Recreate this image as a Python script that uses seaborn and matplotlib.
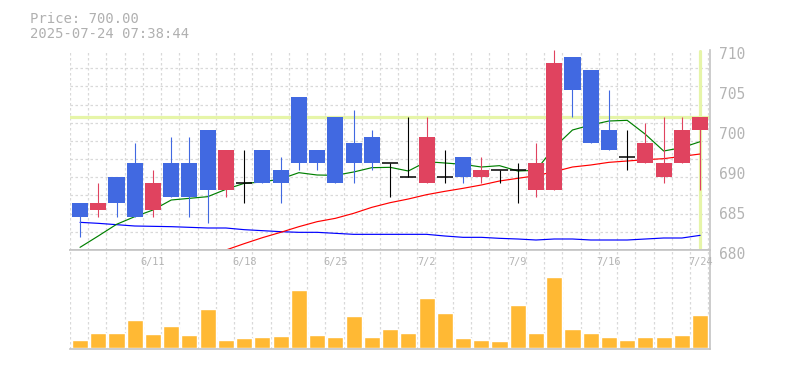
import matplotlib
matplotlib.use("Agg")
import matplotlib.pyplot as plt
import matplotlib.transforms as mtransforms
import numpy as np
import pandas as pd
import seaborn as sns

# ---- data ----
dates = ['6/5', '6/6', '6/9', '6/10', '6/11', '6/12', '6/13', '6/16', '6/17', '6/18',
         '6/19', '6/20', '6/23', '6/24', '6/25', '6/26', '6/27', '6/30', '7/1', '7/2',
         '7/3', '7/4', '7/7', '7/8', '7/9', '7/10', '7/11', '7/14', '7/15', '7/16',
         '7/17', '7/18', '7/22', '7/23', '7/24']
opens = [687, 686, 691, 693, 686, 693, 693, 698, 689, 690, 695, 692, 703, 695, 700, 696, 697, 693,
         691, 690, 691, 694, 691, 692, 692, 689, 689, 709, 707, 698, 694, 693, 691, 693, 698]
highs = [687, 690, 691, 696, 692, 697, 697, 698, 695, 695, 695, 694, 703, 695, 700, 701, 698, 693,
         700, 700, 695, 694, 694, 692, 693, 696, 710, 709, 707, 704, 698, 699, 700, 700, 700]
lows = [682, 685, 685, 685, 685, 688, 685, 684, 688, 687, 690, 687, 692, 692, 690, 690, 692, 688,
        691, 690, 690, 690, 690, 690, 687, 688, 689, 700, 696, 695, 692, 693, 690, 693, 689]
closes = [685, 687, 687, 685, 690, 688, 688, 689, 695, 690, 690, 690, 693, 693, 690, 693, 693, 693,
          691, 697, 691, 691, 692, 692, 692, 693, 708, 704, 696, 695, 694, 696, 693, 698, 700]
volumes = [770, 1470, 1470, 2770, 1370, 2170, 1270, 3870, 770, 970, 1070, 1170, 5770, 1270,
           1070, 3170, 1070, 1870, 1470, 4970, 3470, 970, 770, 670, 4270, 1470, 7070, 1870,
           1470, 1070, 770, 1070, 1070, 1270, 3270]
ma_short = [680.4, 682.1, 683.85, 685.0, 686.0, 687.5, 687.75, 688.0, 689.1, 690.0, 690.2, 690.65,
            691.6, 691.25, 691.2, 691.7, 692.35, 692.4, 691.85, 693.25, 693.05, 692.85, 692.45,
            692.65, 691.85, 691.95, 695.4, 698.0, 698.75, 699.35, 699.45, 697.35, 694.85, 695.35,
            696.25]
ma_mid_start = 8
ma_mid = [680.0, 680.95, 681.85, 682.65, 683.5, 684.25, 684.75, 685.5, 686.4, 687.1, 687.65,
          688.3, 688.8, 689.25, 689.75, 690.35, 690.75, 691.15, 691.75, 692.45, 692.75, 693.15,
          693.35, 693.55, 693.7, 694.05, 694.4]
ma_long = [684.15, 684.0, 683.8, 683.6, 683.55, 683.5, 683.4, 683.3, 683.3, 683.05, 682.9, 682.75,
           682.65, 682.65, 682.5, 682.35, 682.35, 682.35, 682.35, 682.35, 682.1, 681.9, 681.9,
           681.75, 681.65, 681.5, 681.65, 681.65, 681.5, 681.5, 681.5, 681.65, 681.8, 681.8, 682.2]
label_dates = ['6/11', '6/18', '6/25', '7/2', '7/9', '7/16', '7/24']
price_ticks = [680, 686, 692, 698, 704, 710]
price_tick_labels = ['680', '685', '690', '700', '705', '710']
title_lines = ['Price: 700.00', '2025-07-24 07:38:44']

UP = '#e0435f'
DOWN = '#4169e1'
GRID = '#d9d9d9'
SPINE = '#c4c4c4'
TEXT = '#b4b4b4'
HILITE = '#e6f5a8'

sns.set_style("white")
plt.rcParams['font.family'] = ['DejaVu Sans Mono', 'DejaVu Sans']

df = pd.DataFrame({'x': np.arange(len(dates)), 'date': dates, 'open': opens, 'high': highs,
                   'low': lows, 'close': closes, 'volume': volumes,
                   'ma_short': ma_short, 'ma_long': ma_long})

fig = plt.figure(figsize=(7.85, 3.70), dpi=100)
ax = fig.add_axes([70 / 785, 120 / 370, 640 / 785, 200 / 370])
axv = fig.add_axes([70 / 785, 20.7 / 370, 640 / 785, 99.3 / 370])

# ---- price panel ----
ax.axhline(closes[-1], color=HILITE, lw=2.3, zorder=1)
ax.axvline(len(dates) - 1, ymin=0.01, ymax=0.995, color=HILITE, lw=2.3, zorder=1)

sns.lineplot(data=df, x='x', y='ma_long', color='#0000ff', lw=0.85, ax=ax, zorder=2)
mid = pd.DataFrame({'x': np.arange(ma_mid_start, ma_mid_start + len(ma_mid)), 'ma': ma_mid})
sns.lineplot(data=mid, x='x', y='ma', color='#ff0000', lw=0.85, ax=ax, zorder=2)
sns.lineplot(data=df, x='x', y='ma_short', color='#008000', lw=0.85, ax=ax, zorder=2)

w = 0.88
up = df[df.close > df.open]
down = df[df.close < df.open]
flat = df[df.close == df.open]
for sub, col in [(up, UP), (down, DOWN), (flat, 'black')]:
    ax.vlines(sub.x, sub.low, sub.high, color=col, lw=0.8, zorder=3)
ax.bar(up.x, up.close - up.open, bottom=up.open, width=w, color=UP, zorder=4, lw=0)
ax.bar(down.x, down.open - down.close, bottom=down.close, width=w, color=DOWN, zorder=4, lw=0)
ax.hlines(flat.close, flat.x - w / 2, flat.x + w / 2, color='black', lw=1.1, zorder=4)

xlim = (-0.55, len(dates) - 1 + 0.54)
ax.set_xlim(*xlim)
ax.set_ylim(680, 710)
ax.set_xlabel('')
ax.set_ylabel('')
ax.set_xticks([])
ax.set_xticks(np.arange(len(dates) + 1) - 0.55, minor=True)
ax.set_yticks(np.linspace(680, 710, 12), minor=True)
ax.yaxis.tick_right()
ax.set_yticks(price_ticks)
ax.set_yticklabels(price_tick_labels)
ax.tick_params(axis='both', which='both', length=0)
ax.tick_params(axis='y', which='major', pad=6.5, labelsize=10.5, labelcolor=TEXT)
ax.grid(which='minor', color=GRID, linestyle=(0, (2, 2)), lw=0.9)
ax.grid(which='major', visible=False)
ax.set_axisbelow(True)
for s in ['top', 'left']:
    ax.spines[s].set_visible(False)
for s in ['right', 'bottom']:
    ax.spines[s].set_color(SPINE)
    ax.spines[s].set_linewidth(1.2)
shift = mtransforms.ScaledTranslation(0, -3 / 100, fig.dpi_scale_trans)
for lbl in ax.get_yticklabels():
    lbl.set_transform(lbl.get_transform() + shift)

# ---- volume panel ----
sns.barplot(data=df, x='x', y='volume', color='#ffb934', saturation=1, width=w, ax=axv)
axv.set_xlim(*xlim)
axv.set_ylim(-160, 9770)
axv.set_xlabel('')
axv.set_ylabel('')
axv.set_xticks([])
axv.set_yticks([])
axv.set_xticks(np.arange(len(dates) + 1) - 0.55, minor=True)
axv.tick_params(axis='both', which='both', length=0)
axv.grid(which='minor', axis='x', color=GRID, linestyle=(0, (2, 2)), lw=0.9)
axv.set_axisbelow(True)
axv.spines['left'].set_visible(False)
for s in ['top', 'right', 'bottom']:
    axv.spines[s].set_color(SPINE)
    axv.spines[s].set_linewidth(1.2)
tr = mtransforms.blended_transform_factory(axv.transData, axv.transAxes)
for lab in label_dates:
    axv.text(dates.index(lab), 0.879, lab, transform=tr, ha='center', va='center',
             fontsize=7.4, color='#b4b4b4')

# ---- header ----
fig.text(30 / 785, 1 - 23 / 370, title_lines[0], fontsize=10, color='#b0b0b0', va='baseline')
fig.text(30 / 785, 1 - 38 / 370, title_lines[1], fontsize=10, color='#b0b0b0', va='baseline')

fig.savefig('out.png', dpi=100)
